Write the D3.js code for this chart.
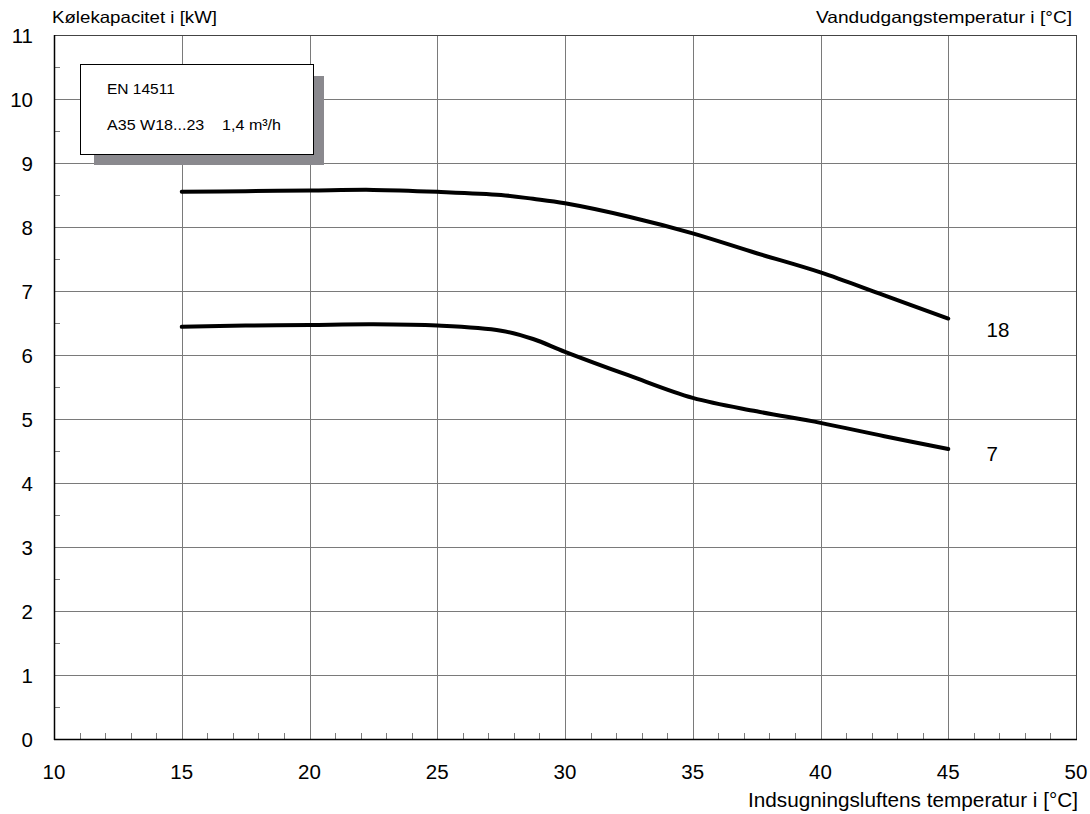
<!DOCTYPE html>
<html>
<head>
<meta charset="utf-8">
<script src="https://cdn.jsdelivr.net/npm/d3@7"></script>
<style>
  body { margin: 0; background: #fff; }
  text { font-family: "Liberation Sans", Arial, sans-serif; fill: #000; }
</style>
</head>
<body>
<div id="chart"></div>
<script>
// chart data
const temps = [15, 17.5, 20, 22.5, 25, 27.5, 28.75, 30, 32.5, 35, 37.5, 40, 42.5, 45];
const cap18 = [8.55, 8.56, 8.57, 8.58, 8.55, 8.50, 8.44, 8.37, 8.16, 7.90, 7.59, 7.29, 6.93, 6.57];
const cap7 = [6.44, 6.46, 6.47, 6.48, 6.46, 6.38, 6.25, 6.05, 5.68, 5.33, 5.12, 4.94, 4.73, 4.53];
const seriesLabels = ["18", "7"];
const xTicks = [10, 15, 20, 25, 30, 35, 40, 45, 50];
const yTicks = [0, 1, 2, 3, 4, 5, 6, 7, 8, 9, 10, 11];
const boxLines = ["EN 14511", "A35 W18...23    1,4 m³/h"];

const width = 1090, height = 814;
const margin = {top: 35, right: 14, bottom: 75, left: 54};
const w = width - margin.left - margin.right,
      h = height - margin.top - margin.bottom;

const svg = d3.select("#chart").append("svg")
    .attr("width", width)
    .attr("height", height);

const g = svg.append("g")
    .attr("transform", "translate(" + margin.left + "," + margin.top + ")");

const x = d3.scaleLinear().domain([10, 50]).range([0, w]);
const y = d3.scaleLinear().domain([0, 11]).range([h, 0]);

// grid
g.append("g")
    .selectAll("line")
    .data(xTicks)
    .join("line")
    .attr("x1", d => Math.round(x(d)) + 0.5)
    .attr("x2", d => Math.round(x(d)) + 0.5)
    .attr("y1", 0)
    .attr("y2", h)
    .attr("stroke", "#7a7a7a");

g.append("g")
    .selectAll("line")
    .data(yTicks)
    .join("line")
    .attr("x1", 0)
    .attr("x2", w)
    .attr("y1", d => Math.round(y(d)) + 0.5)
    .attr("y2", d => Math.round(y(d)) + 0.5)
    .attr("stroke", "#7a7a7a");

// minor ticks
g.append("g")
    .selectAll("line")
    .data(d3.range(10, 51, 1).filter(d => d % 5 !== 0))
    .join("line")
    .attr("x1", d => Math.round(x(d)) + 0.5)
    .attr("x2", d => Math.round(x(d)) + 0.5)
    .attr("y1", h)
    .attr("y2", h - 6)
    .attr("stroke", "#7a7a7a");

g.append("g")
    .selectAll("line")
    .data(d3.range(0.5, 11, 1))
    .join("line")
    .attr("x1", 0)
    .attr("x2", 6)
    .attr("y1", d => Math.round(y(d)) + 0.5)
    .attr("y2", d => Math.round(y(d)) + 0.5)
    .attr("stroke", "#7a7a7a");

// frame
g.append("rect")
    .attr("x", 0.5).attr("y", 0.5)
    .attr("width", w).attr("height", h)
    .attr("fill", "none")
    .attr("stroke", "#444");
g.append("line")
    .attr("x1", 0.5).attr("x2", 0.5).attr("y1", 0).attr("y2", h + 1)
    .attr("stroke", "#000").attr("stroke-width", 1.5);
g.append("line")
    .attr("x1", 0).attr("x2", w + 1).attr("y1", h + 0.5).attr("y2", h + 0.5)
    .attr("stroke", "#000").attr("stroke-width", 1.5);

// axis labels
g.append("g")
    .selectAll("text")
    .data(xTicks)
    .join("text")
    .attr("x", d => x(d))
    .attr("y", h + 40)
    .attr("text-anchor", "middle")
    .style("font-size", "20.5px")
    .text(d => d);

g.append("g")
    .selectAll("text")
    .data(yTicks)
    .join("text")
    .attr("x", -21)
    .attr("y", d => y(d) + 7.5)
    .attr("text-anchor", "end")
    .style("font-size", "20.5px")
    .text(d => d);

// axis titles (stretched a little wider, like the original)
svg.append("text")
    .attr("x", 52).attr("y", 23)
    .style("font-size", "16.5px")
    .attr("textLength", 165)
    .attr("lengthAdjust", "spacingAndGlyphs")
    .text("Kølekapacitet i [kW]");

svg.append("text")
    .attr("x", 816).attr("y", 23)
    .style("font-size", "16.5px")
    .attr("textLength", 256)
    .attr("lengthAdjust", "spacingAndGlyphs")
    .text("Vandudgangstemperatur i [°C]");

svg.append("text")
    .attr("x", 748).attr("y", 807)
    .style("font-size", "19.5px")
    .attr("textLength", 330)
    .attr("lengthAdjust", "spacingAndGlyphs")
    .text("Indsugningsluftens temperatur i [°C]");

// info box with shadow
svg.append("rect")
    .attr("x", 94).attr("y", 76)
    .attr("width", 230).attr("height", 89)
    .attr("fill", "#8a898e");
svg.append("rect")
    .attr("x", 80.5).attr("y", 64.5)
    .attr("width", 233).attr("height", 90)
    .attr("fill", "#fff")
    .attr("stroke", "#000");
svg.append("text")
    .attr("x", 107).attr("y", 94)
    .style("font-size", "15.5px")
    .text(boxLines[0]);
svg.append("text")
    .attr("x", 107).attr("y", 130)
    .style("font-size", "15.5px")
    .style("white-space", "pre")
    .attr("xml:space", "preserve")
    .attr("textLength", 174)
    .attr("lengthAdjust", "spacingAndGlyphs")
    .text(boxLines[1]);

// curves
const line = d3.line()
    .x((d, i) => x(temps[i]))
    .y(d => y(d))
    .curve(d3.curveCatmullRom.alpha(0.5));

[cap18, cap7].forEach((vals, k) => {
    g.append("path")
        .datum(vals)
        .attr("d", line)
        .attr("fill", "none")
        .attr("stroke", "#000")
        .attr("stroke-width", 4)
        .attr("stroke-linecap", "round");

    g.append("text")
        .attr("x", x(46.5))
        .attr("y", y(vals[vals.length - 1]) + (k === 0 ? 18 : 12))
        .style("font-size", "20.5px")
        .text(seriesLabels[k]);
});
</script>
</body>
</html>
